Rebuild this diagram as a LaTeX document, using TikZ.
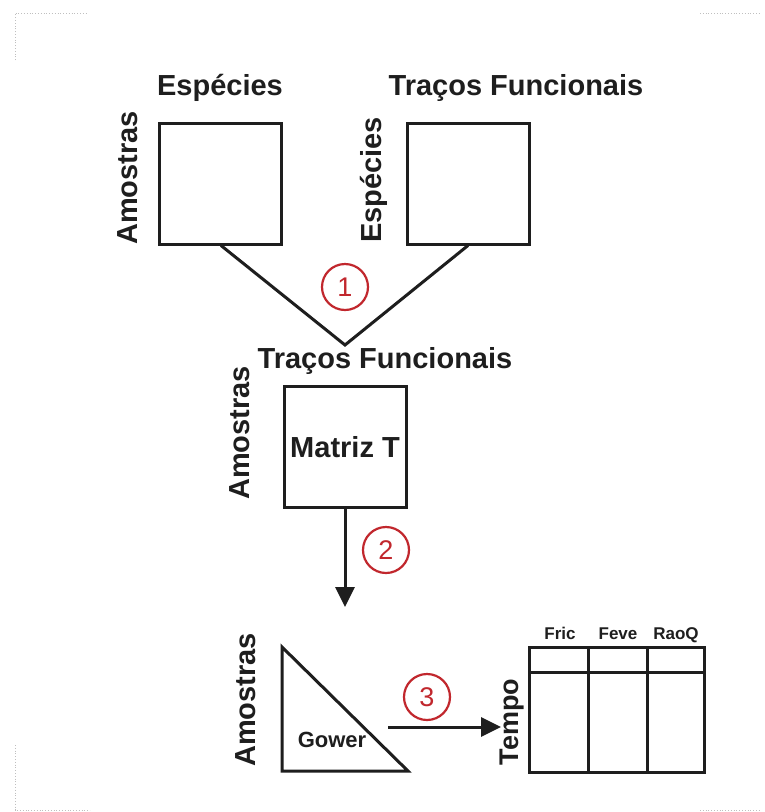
\documentclass[tikz,border=0pt]{standalone}
\usepackage{fontspec}
\setmainfont{Liberation Sans}
\usetikzlibrary{arrows.meta}
\definecolor{ink}{HTML}{1E1E1E}
\definecolor{numred}{HTML}{C1272D}
\begin{document}
\begin{tikzpicture}[x=1pt,y=-1pt,
  box/.style={draw=ink,line width=3pt,minimum width=122pt,minimum height=121pt,inner sep=0pt,outer sep=0pt},
  big/.style={text=ink,font=\fontsize{29}{30}\selectfont\bfseries,inner sep=0pt},
  mid/.style={text=ink,font=\fontsize{22}{24}\selectfont\bfseries,inner sep=0pt},
  small/.style={text=ink,font=\fontsize{17}{18}\selectfont\bfseries,inner sep=0pt,anchor=base},
  num/.style={circle,draw=numred,line width=2.2pt,minimum size=46pt,inner sep=0pt,text=numred,font=\fontsize{27}{28}\selectfont},
  conn/.style={draw=ink,line width=3pt},
  arr/.style={conn,-{Triangle[length=20pt,width=19pt]}},
  corner/.style={draw=black!25,line width=0.8pt,dotted}
]
\useasboundingbox (0,0) rectangle (765,812);
\fill[white] (0,0) rectangle (765,812);
% faint corner marks
\draw[corner] (15,60) -- (15,13) -- (88,13);
\draw[corner] (700,13) -- (760,13);
\draw[corner] (15,745) -- (15,810) -- (90,810);
\draw[corner] (700,810) -- (760,810);

% top boxes
\node[box] (sp) at (220.5,184) {};
\node[box] (tr) at (468.5,184) {};
\node[big] (lsp) at (220,88) {Espécies};
\node[big] (ltr) at (516,88) {Traços Funcionais};
\node[big,rotate=90] (lam1) at (128,178) {Amostras};
\node[big,rotate=90] (lsp2) at (374,180) {Espécies};

\coordinate (apex) at (345,345);
\draw[conn,line join=miter] (221,245.5) -- (apex) -- (468,245.5);
\node[num] (n1) at (345,287) {1};

% matrix T
\node[big] (ltr2) at (385,361) {Traços Funcionais};
\node[box,font=\fontsize{29}{30}\selectfont\bfseries,text=ink] (mt) at (345,447) {Matriz T};
\node[big,rotate=90] (lam2) at (240,433) {Amostras};

\coordinate (a2) at (345,607);
\draw[arr] (mt.south) -- (a2);
\node[num] (n2) at (386,550) {2};

% Gower triangle
\coordinate (g1) at (282,647);
\coordinate (g2) at (282,771);
\coordinate (g3) at (408,771);
\draw[conn,line join=miter] (g1) -- (g2) -- (g3) -- cycle;
\node[mid] (gw) at (332,740) {Gower};
\node[big,rotate=90] (lam3) at (246,700) {Amostras};

\coordinate (a3s) at (388,727);
\coordinate (a3e) at (501,727);
\draw[arr] (a3s) -- (a3e);
\node[num] (n3) at (427,697) {3};

% table
\node[draw=ink,line width=3pt,minimum width=175pt,minimum height=125pt,inner sep=0pt,outer sep=0pt] (tab) at (616.5,709.5) {};
\draw[conn] (529,672) -- (704,672);
\draw[conn] (588,647) -- (588,772);
\draw[conn] (647,647) -- (647,772);
\node[small] (hf) at (560,639) {Fric};
\node[small] (hv) at (618,639) {Feve};
\node[small] (hr) at (676,639) {RaoQ};
\node[big,rotate=90,font=\fontsize{27}{28}\selectfont\bfseries] (ltp) at (512,722) {Tempo};
\end{tikzpicture}
\end{document}
